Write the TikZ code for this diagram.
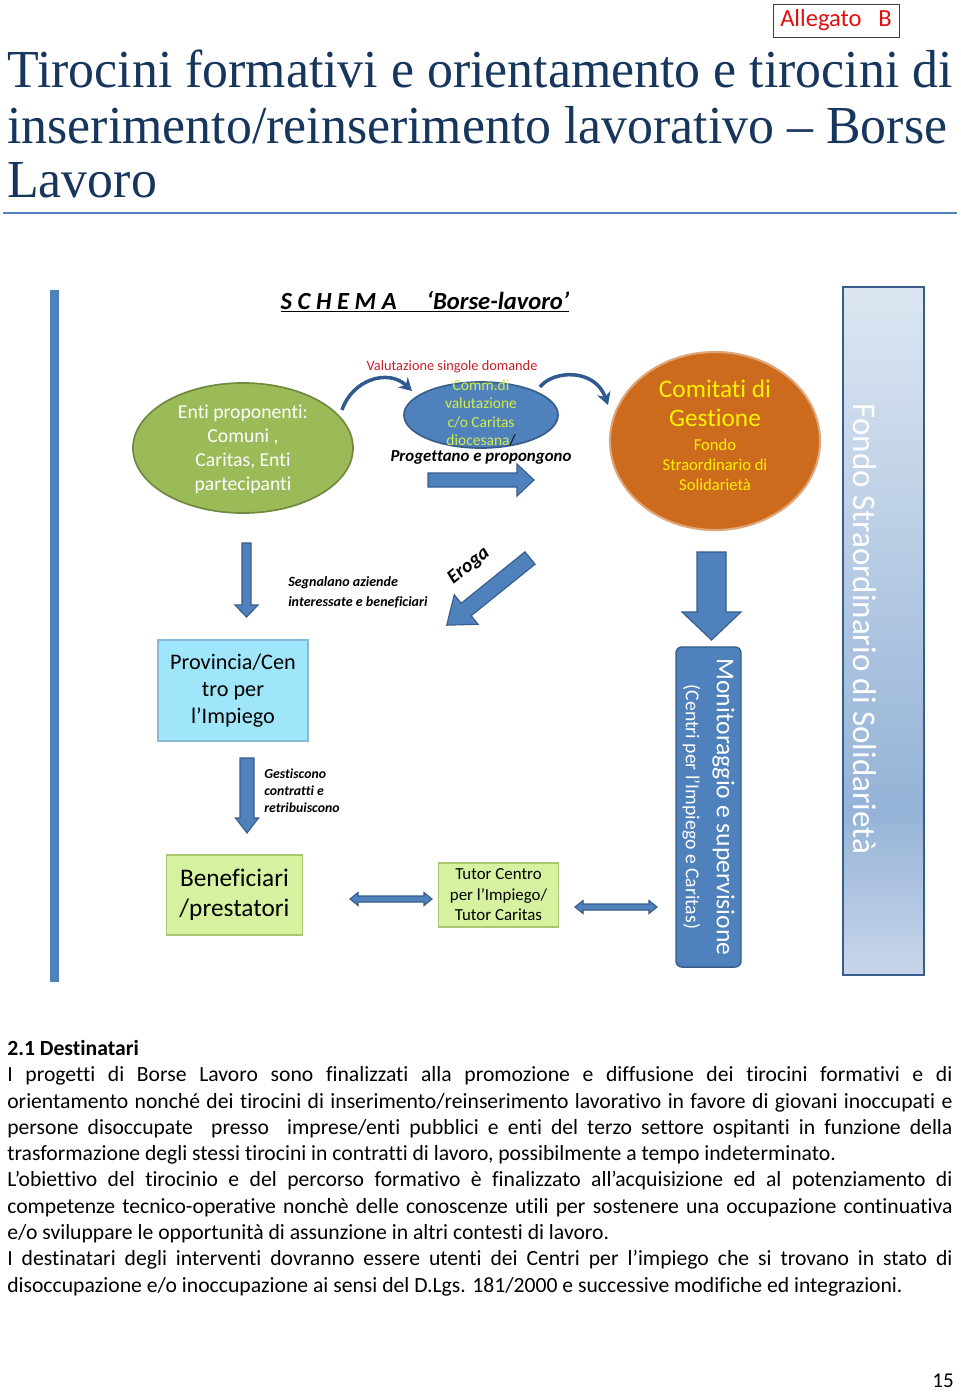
\documentclass[tikz,border=0pt]{standalone}
\usepackage{fontspec}
\setmainfont{Carlito}[Ligatures={TeX,NoCommon}]
\newfontfamily\titlefont{Liberation Serif}[FakeStretch=0.97]
\usetikzlibrary{shapes,arrows,positioning,calc,arrows.meta}
\setlength{\parindent}{0pt}

\definecolor{accblue}{HTML}{4F81BD}
\definecolor{darkblue}{HTML}{385D8A}
\definecolor{arcblue}{HTML}{2F5A8F}
\definecolor{entigreen}{HTML}{9BBB59}
\definecolor{entiborder}{HTML}{71893F}
\definecolor{comitorange}{HTML}{CC6A1E}
\definecolor{provcyan}{HTML}{A0E6FA}
\definecolor{provborder}{HTML}{8CB8D8}
\definecolor{benlime}{HTML}{D6F2A0}
\definecolor{benborder}{HTML}{A8C870}
\definecolor{commtext}{HTML}{D0EE48}
\definecolor{valred}{HTML}{C8202A}
\definecolor{allegred}{HTML}{E31010}
\definecolor{titleblue}{HTML}{17365D}
\definecolor{fondotop}{HTML}{DCE6F2}
\definecolor{fondomid}{HTML}{95B3D7}
\definecolor{fondobot}{HTML}{C8D6EA}

\pgfdeclareverticalshading{fondoshade}{100bp}{color(0bp)=(fondobot); color(25bp)=(fondobot); color(37bp)=(fondomid); color(75bp)=(fondotop); color(100bp)=(fondotop)}

\tikzset{
  barrow/.style={fill=accblue, draw=darkblue, line width=0.8pt, line join=miter},
  arcarrow/.style={draw=arcblue, line width=2.5pt, -{Stealth[length=9pt, width=10pt]}},
  pics/blockarrow/.style n args={4}{code={
    \filldraw[barrow] (0,-#2) -- ({#1-#4},-#2) -- ({#1-#4},-#3) -- (#1,0) -- ({#1-#4},#3) -- ({#1-#4},#2) -- (0,#2) -- cycle;
  }},
  pics/dblarrow/.style n args={4}{code={
    \filldraw[barrow] (0,0) -- (#4,-#3) -- (#4,-#2) -- ({#1-#4},-#2) -- ({#1-#4},-#3) -- (#1,0) -- ({#1-#4},#3) -- ({#1-#4},#2) -- (#4,#2) -- (#4,#3) -- cycle;
  }},
  titletext/.style={text=titleblue, inner sep=0, font=\titlefont\fontsize{38}{39}\selectfont},
  allegato/.style={draw=black!75, line width=0.6pt, text=allegred, minimum width=3.15cm, minimum height=0.825cm, inner sep=0, font=\fontsize{17.5}{20}\selectfont},
  enti/.style={ellipse, draw=entiborder, fill=entigreen, line width=1.2pt, minimum width=5.5cm, minimum height=3.25cm, inner sep=0},
  comm/.style={ellipse, draw=darkblue, fill=accblue, line width=1.2pt, minimum width=3.85cm, minimum height=1.65cm, inner sep=0},
  comit/.style={ellipse, fill=comitorange, draw=comitorange!60, line width=1.5pt, minimum width=5.25cm, minimum height=4.45cm, inner sep=0},
  provbox/.style={draw=provborder, fill=provcyan, line width=0.8pt, minimum width=3.75cm, minimum height=2.525cm, align=center, inner sep=0},
  benbox/.style={draw=benborder, fill=benlime, line width=0.8pt, align=center, inner sep=0},
  monit/.style={draw=darkblue, fill=accblue, line width=1pt, rounded corners=0.15cm, minimum width=8cm, minimum height=1.625cm, align=center, text=white, inner sep=0},
  fondobox/.style={draw=darkblue, line width=1.3pt, shading=fondoshade, minimum width=2.025cm, minimum height=17.2cm, inner sep=0},
  whitetext/.style={text=white, align=center, inner sep=0},
  notetext/.style={align=left, inner sep=0, font=\bfseries\itshape\fontsize{10}{14.2}\selectfont},
  bodytext/.style={text width=23.625cm, align=justify, inner sep=0, font=\fontsize{15.4}{18.7}\selectfont}
}

\begin{document}
\begin{tikzpicture}[x=0.025cm, y=-0.025cm]
    \fill[white] (0,0) rectangle (960,1393);
    \useasboundingbox (0,0) rectangle (960,1393);

    % Header
    \node[allegato] (allegato) at (836,20.5) {Allegato\ \ \ B};
    \node[titletext, anchor=base west] (title1) at (7,88) {Tirocini formativi e orientamento e tirocini di};
    \node[titletext, anchor=base west] (title2) at (7,143) {inserimento/reinserimento lavorativo – Borse};
    \node[titletext, anchor=base west] (title3) at (7,197) {Lavoro};
    \draw[accblue, line width=1.4pt] (3,213) -- (957,213);

    \node[font=\bfseries\itshape\fontsize{17.5}{20}\selectfont] (schema) at (425,302) {\underline{S C H E M A\hspace{0.75cm}‘Borse-lavoro’}};

    % Side bars
    \fill[accblue] (50,290) rectangle (58.5,982);
    \node[fondobox] (fondo) at (883.5,631) {};
    \node[whitetext, rotate=-90, font=\fontsize{23.5}{26}\selectfont] (fondotxt) at (865,629) {Fondo Straordinario di Solidarietà};

    % Top row
    \node[enti] (enti) at (243,448) {};
    \node[whitetext, font=\fontsize{14}{17.1}\selectfont] (entitxt) at (243,449) {Enti proponenti:\\Comuni ,\\Caritas, Enti\\partecipanti};

    \node[text=valred, font=\fontsize{10.2}{12}\selectfont] (valut) at (452,367) {Valutazione singole domande};
    \node[comm] (comm) at (481,415) {};
    \node[text=commtext, align=center, inner sep=0, font=\fontsize{11}{13.2}\selectfont] (commtxt) at (481,413) {Comm.di\\valutazione\\c/o Caritas\\diocesana\textcolor{black}{/}};
    \node[font=\bfseries\itshape\fontsize{12}{13}\selectfont] (prog) at (481,457) {Progettano e propongono};

    \node[comit] (comit) at (715,441) {};
    \node[text=yellow, align=center, inner sep=0, font=\fontsize{18}{20.6}\selectfont] (comittxt) at (715,403.5) {Comitati di\\Gestione};
    \node[text=yellow, align=center, inner sep=0, font=\fontsize{11.8}{14.2}\selectfont] (comitsub) at (715,465) {Fondo\\Straordinario di\\Solidarietà};

    \coordinate (arcA1) at (342,410); \coordinate (arcA2) at (412,391);
    \draw[arcarrow] (arcA1) .. controls (352,380) and (388,368) .. (arcA2);
    \coordinate (arcB1) at (540,387); \coordinate (arcB2) at (608,405);
    \draw[arcarrow] (arcB1) .. controls (553,370) and (595,368) .. (arcB2);

    \pic (arrProg) at (428,480) {blockarrow={106}{7}{16}{17}};

    % Middle row
    \pic[rotate=-90] (arrSegn) at (246.5,543) {blockarrow={74}{4.5}{11.5}{12}};
    \node[notetext, anchor=west] (segn) at (288,592) {Segnalano aziende\\interessate e beneficiari};

    \pic[rotate=218.9] (arrEroga) at (530,558) {blockarrow={107}{8}{19}{25}};
    \node[rotate=39, font=\bfseries\itshape\fontsize{14}{16}\selectfont] (eroga) at (469,566) {Eroga};

    \pic[rotate=-90] (arrComit) at (711.5,552) {blockarrow={88}{14.5}{29.5}{28}};

    \node[provbox, font=\fontsize{15.8}{19.2}\selectfont] (prov) at (233,690.5) {Provincia/Cen\\tro per\\l’Impiego};

    \pic[rotate=-90] (arrGest) at (247,758) {blockarrow={75}{7}{11.5}{15}};
    \node[notetext, anchor=west, font=\bfseries\itshape\fontsize{9.8}{12.1}\selectfont] (gest) at (264,791) {Gestiscono\\contratti e\\retribuiscono};

    \node[monit, rotate=-90, font=\fontsize{14}{22}\selectfont] (monit) at (708.5,807) {{\fontsize{18.2}{22}\selectfont Monitoraggio e supervisione}\\(Centri per l’Impiego e Caritas)};

    % Bottom row
    \node[benbox, minimum width=3.4cm, minimum height=2cm, font=\fontsize{18}{21.3}\selectfont] (ben) at (234.5,895) {Beneficiari\\/prestatori};
    \node[benbox, minimum width=3cm, minimum height=1.6cm, font=\fontsize{12}{14.6}\selectfont] (tutor) at (498.5,895) {Tutor Centro\\per l’Impiego/\\Tutor Caritas};
    \pic (dblBen) at (350,899) {dblarrow={82}{3}{6.5}{8}};
    \pic (dblTut) at (575,907) {dblarrow={82}{3}{6.5}{8}};

    % Text
    \node[bodytext, anchor=north west] (dest) at (7,1040) {{\bfseries 2.1 Destinatari}\par
I progetti di Borse Lavoro sono finalizzati alla promozione e diffusione dei tirocini formativi e di\linebreak
orientamento nonché dei tirocini di inserimento/reinserimento lavorativo in favore di giovani inoccupati e\linebreak
persone disoccupate\ \ presso\ \ imprese/enti pubblici e enti del terzo settore ospitanti in funzione della\linebreak
trasformazione degli stessi tirocini in contratti di lavoro, possibilmente a tempo indeterminato.\par
L'obiettivo del tirocinio e del percorso formativo è finalizzato all’acquisizione ed al potenziamento di\linebreak
competenze tecnico-operative nonchè delle conoscenze utili per sostenere una occupazione continuativa\linebreak
e/o sviluppare le opportunità di assunzione in altri contesti di lavoro.\par
I destinatari degli interventi dovranno essere utenti dei Centri per l’impiego che si trovano in stato di\linebreak
disoccupazione e/o inoccupazione ai sensi del D.Lgs. 181/2000 e successive modifiche ed integrazioni.};

    \node[font=\fontsize{15}{18}\selectfont] (pagenum) at (943,1381) {15};
\end{tikzpicture}
\end{document}
